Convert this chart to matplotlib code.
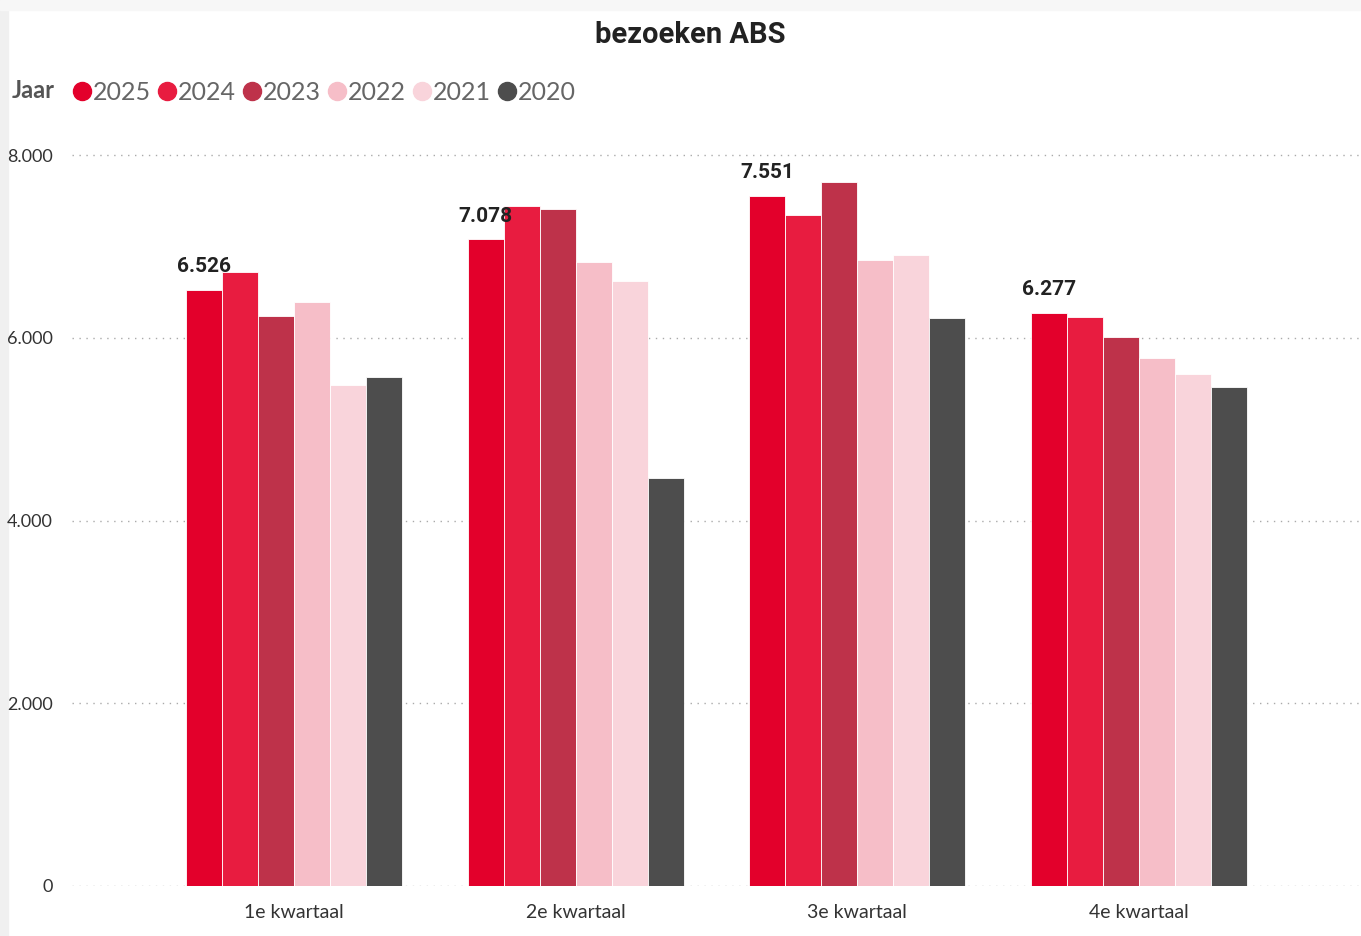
import matplotlib.pyplot as plt
from matplotlib.patches import Rectangle
from matplotlib.lines import Line2D
import numpy as np

quarters = ["1e kwartaal", "2e kwartaal", "3e kwartaal", "4e kwartaal"]
years = ["2025", "2024", "2023", "2022", "2021", "2020"]
colors = ["#E3002B", "#E81C40", "#BE324A", "#F6BEC8", "#F9D4DB", "#4D4D4D"]

v2025 = [6526, 7078, 7551, 6277]
v2024 = [6720, 7440, 7340, 6225]
v2023 = [6236, 7406, 7702, 6006]
v2022 = [6389, 6826, 6848, 5776]
v2021 = [5481, 6619, 6903, 5601]
v2020 = [5569, 4464, 6214, 5459]
series = [v2025, v2024, v2023, v2022, v2021, v2020]

plt.rcParams["font.family"] = ["Lato", "DejaVu Sans"]

fig = plt.figure(figsize=(13.61, 9.36), dpi=100)
ax = fig.add_axes([72 / 1361, 1 - 886 / 936, 1 - 72 / 1361, (886 - 146) / 936])

x = np.arange(len(quarters))
w = 0.128
for i, (vals, c) in enumerate(zip(series, colors)):
    ax.bar(x + (i - 2.5) * w, vals, w, color=c, edgecolor="white", linewidth=0.6, zorder=3)

for xi, v in zip(x, v2025):
    ax.text(xi - 2.5 * w, v + 150, f"{v:,}".replace(",", "."), ha="center", va="bottom",
            fontsize=15, fontweight="bold", color="#222222", family="Roboto", zorder=4)

ax.set_xlim(-0.79, 3.79)
ax.set_ylim(0, 8100)
ax.set_yticks([0, 2000, 4000, 6000, 8000])
ax.set_yticklabels(["0", "2.000", "4.000", "6.000", "8.000"], fontsize=13, color="#333333")
ax.set_xticks(x)
ax.set_xticklabels(quarters, fontsize=14, color="#333333")
ax.tick_params(length=0, pad=14)
ax.tick_params(axis="x", pad=13)
ax.grid(axis="y", linestyle=(0, (1, 4)), color="#AAAAAA", linewidth=1, zorder=0)
for s in ax.spines.values():
    s.set_visible(False)

fig.text(0.507, 0.963, "bezoeken ABS", ha="center", va="center", fontsize=21,
         fontweight="bold", color="#222222", family="Roboto")

fig.text(12 / 1361, 0.903, "Jaar", ha="left", va="center", fontsize=17,
         fontweight="bold", color="#555555")
lx = [82, 167, 252, 337, 422, 507]
for px, yr, c in zip(lx, years, colors):
    fig.add_artist(Line2D([px / 1361], [0.903], marker="o", markersize=13,
                          color=c, linestyle="none", transform=fig.transFigure))
    fig.text((px + 11) / 1361, 0.901, yr, ha="left", va="center", fontsize=18, color="#666666")

fig.add_artist(Rectangle((0, 0), 8 / 1361, 1, transform=fig.transFigure,
                         color="#F0F0F0", zorder=0))
fig.add_artist(Rectangle((0, 1 - 10 / 936), 1, 10 / 936, transform=fig.transFigure,
                         color="#F7F7F7", zorder=0))

fig.savefig("out.png", dpi=100)
